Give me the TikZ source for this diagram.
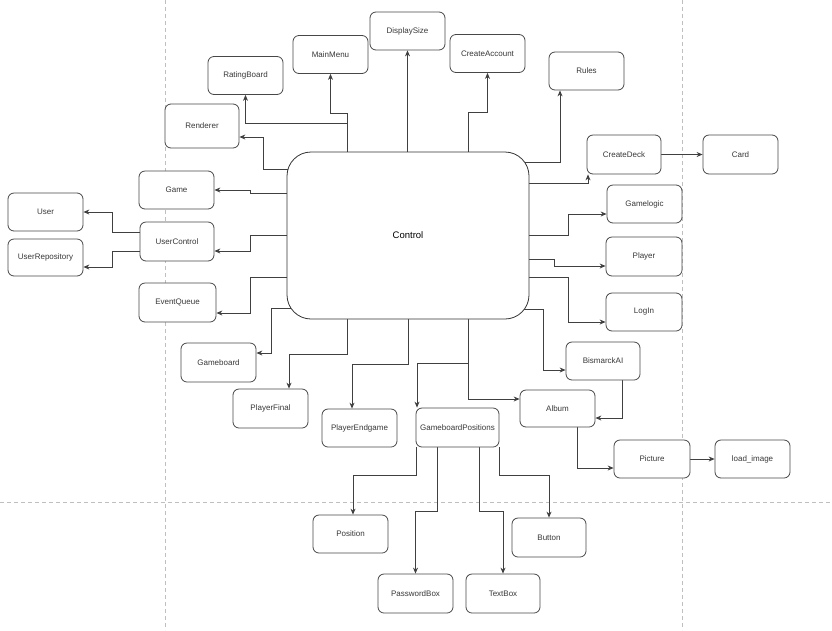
\documentclass[tikz,border=0pt]{standalone}
\usepackage{fontspec}
\setmainfont{Liberation Sans}
\usetikzlibrary{arrows.meta}
\pgfdeclarelayer{background}
\pgfsetlayers{background,main}
\begin{document}
\begin{tikzpicture}[x=1pt,y=-1pt,
  box/.style={draw=black!72, line width=0.8pt, fill=white, rounded corners=6pt,
    minimum width=75pt, minimum height=38pt, inner sep=0pt, text=black!78,
    font=\fontsize{8}{9.6}\selectfont},
  bigbox/.style={draw=black!80, line width=0.8pt, fill=white, rounded corners=24pt,
    minimum width=242pt, minimum height=167pt, inner sep=0pt, text=black,
    font=\fontsize{9.5}{11}\selectfont},
  arr/.style={draw=black!75, line width=0.8pt, -{Stealth[length=6pt,width=5pt]}},
  pageline/.style={draw=black!25, line width=0.8pt, dash pattern=on 4pt off 3pt}]
\useasboundingbox (0,0) rectangle (832,630);

% nodes
\node[bigbox] (Control) at (408,235.5) {Control};
\node[box] (RatingBoard) at (245.5,75.5) {RatingBoard};
\node[box] (MainMenu) at (330.5,54.5) {MainMenu};
\node[box] (DisplaySize) at (407.5,31) {DisplaySize};
\node[box] (CreateAccount) at (487.5,53.5) {CreateAccount};
\node[box] (Rules) at (586.5,71) {Rules};
\node[box, minimum width=74pt, minimum height=44pt] (Renderer) at (202,126) {Renderer};
\node[box, minimum width=74pt, minimum height=39pt] (CreateDeck) at (624,154.5) {CreateDeck};
\node[box, minimum height=39pt] (Card) at (740.5,154.5) {Card};
\node[box] (Game) at (176.5,190) {Game};
\node[box] (Gamelogic) at (644.5,204) {Gamelogic};
\node[box] (User) at (45.5,212) {User};
\node[box, minimum width=74pt, minimum height=39pt] (UserControl) at (177,241.5) {UserControl};
\node[box, minimum height=37pt] (UserRepository) at (45.5,257.5) {UserRepository};
\node[box, minimum width=76pt, minimum height=39pt] (Player) at (644,256.5) {Player};
\node[box, minimum width=77pt, minimum height=39pt] (EventQueue) at (177.5,302.5) {EventQueue};
\node[box, minimum width=76pt] (LogIn) at (644,312) {LogIn};
\node[box, minimum height=39pt] (Gameboard) at (218.5,362.5) {Gameboard};
\node[box, minimum width=74pt] (BismarckAI) at (603,361) {BismarckAI};
\node[box, minimum height=39pt] (PlayerFinal) at (270.5,408.5) {PlayerFinal};
\node[box, minimum height=37pt] (Album) at (557.5,408.5) {Album};
\node[box] (PlayerEndgame) at (359.5,428) {PlayerEndgame};
\node[box, minimum width=83pt, minimum height=39pt] (GameboardPositions) at (457.5,427.5) {GameboardPositions};
\node[box, minimum width=76pt] (Picture) at (652,459) {Picture};
\node[box] (load_image) at (752.5,459) {load\_image};
\node[box] (Position) at (350.5,534) {Position};
\node[box, minimum width=74pt, minimum height=39pt] (Button) at (549,537.5) {Button};
\node[box, minimum height=39pt] (PasswordBox) at (415.5,593.5) {PasswordBox};
\node[box, minimum width=74pt, minimum height=39pt] (TextBox) at (503,593.5) {TextBox};

\begin{pgfonlayer}{background}
\fill[white] (0,0) rectangle (832,630);
\draw[pageline] (165,0) -- (165,630);
\draw[pageline] (682,0) -- (682,630);
\draw[pageline] (0,502) -- (832,502);

% connectors
\draw[arr] (Control.center -| 347,0) -- (347,123) -| (RatingBoard.south);
\draw[arr] (Control.center -| 347,0) -- (347,113) -| (MainMenu.south);
\draw[arr] (Control.center -| DisplaySize.south) -- (DisplaySize.south);
\draw[arr] (Control.center -| 468,0) -- (468,112) -| (CreateAccount.south);
\draw[arr] (Control.center |- 0,162) -| (Rules.south -| 560,0);
\draw[arr] (Control.center |- 0,169) -- (263,169) |- (Renderer.east |- 0,137);
\draw[arr] (Control.center |- 0,183) -| (CreateDeck.south -| 588,0);
\draw[arr] (CreateDeck.east) -- (Card.west);
\draw[arr] (Control.center |- 0,193) -- (250,193) |- (Game.east);
\draw[arr] (Control.center |- 0,235) -- (568,235) |- (Gamelogic.west |- 0,214);
\draw[arr] (Control.center |- 0,235) -- (250,235) |- (UserControl.east |- 0,251);
\draw[arr] (UserControl.west |- 0,232) -- (112,232) |- (User.east);
\draw[arr] (UserControl.west |- 0,251) -- (112,251) |- (UserRepository.east |- 0,267);
\draw[arr] (Control.center |- 0,259) -- (554,259) |- (Player.west |- 0,266);
\draw[arr] (Control.center |- 0,277) -- (250,277) |- (EventQueue.east |- 0,313);
\draw[arr] (Control.center |- 0,277) -- (568,277) |- (LogIn.west |- 0,322);
\draw[arr] (Control.center |- 0,308) -- (271,308) |- (Gameboard.east |- 0,353);
\draw[arr] (Control.center |- 0,309) -- (543,309) |- (BismarckAI.west |- 0,370);
\draw[arr] (Control.center -| 347,0) -- (347,354) -| (PlayerFinal.north -| 289,0);
\draw[arr] (Control.center) -- (408,364) -| (PlayerEndgame.north -| 352,0);
\draw[arr] (Control.center -| 468,0) -- (468,363) -| (GameboardPositions.north -| 417,0);
\draw[arr] (Control.center -| 468,0) |- (Album.west |- 0,399);
\draw[arr] (BismarckAI.south -| 622,0) |- (Album.east |- 0,418);
\draw[arr] (Album.south -| 577,0) |- (Picture.west |- 0,468);
\draw[arr] (Picture.east) -- (load_image.west);
\draw[arr] (GameboardPositions.south -| 416,0) -- (416,475) -| (Position.north -| 353,0);
\draw[arr] (GameboardPositions.south -| 437,0) -- (437,511) -| (PasswordBox.north);
\draw[arr] (GameboardPositions.south -| 479,0) -- (479,511) -| (TextBox.north);
\draw[arr] (GameboardPositions.south -| 499,0) -- (499,475) -| (Button.north);
\end{pgfonlayer}
\end{tikzpicture}
\end{document}
